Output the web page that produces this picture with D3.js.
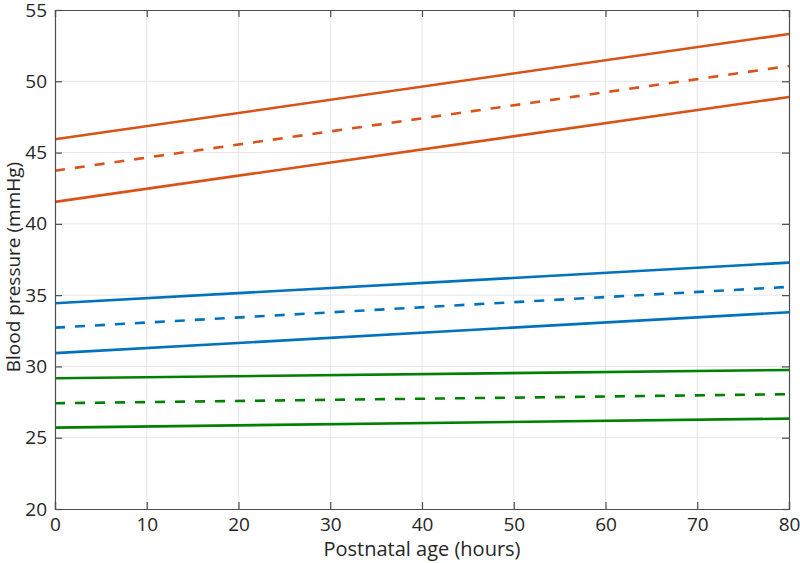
<!DOCTYPE html>
<html>
<head>
<meta charset="utf-8">
<script src="https://cdn.jsdelivr.net/npm/d3@7"></script>
<style>
  body { margin: 0; background: #fff; }
  text { font-family: "Open Sans", "Noto Sans", sans-serif; fill: #262626; }
</style>
</head>
<body>
<div id="chart"></div>
<script>
// data: straight lines from hour 0 to hour 80
const hours = [0, 80];
const xTicks = [0, 10, 20, 30, 40, 50, 60, 70, 80];
const yTicks = [20, 25, 30, 35, 40, 45, 50, 55];

const orangeUpper = [45.93, 53.32];
const orangeMid   = [43.73, 51.07];
const orangeLower = [41.54, 48.90];
const blueUpper   = [34.43, 37.28];
const blueMid     = [32.72, 35.58];
const blueLower   = [30.93, 33.80];
const greenUpper  = [29.17, 29.75];
const greenMid    = [27.42, 28.05];
const greenLower  = [25.71, 26.34];

const series = [
  { values: orangeUpper, color: "#D95319", dashed: false },
  { values: orangeMid,   color: "#D95319", dashed: true },
  { values: orangeLower, color: "#D95319", dashed: false },
  { values: blueUpper,   color: "#0072BD", dashed: false },
  { values: blueMid,     color: "#0072BD", dashed: true },
  { values: blueLower,   color: "#0072BD", dashed: false },
  { values: greenUpper,  color: "#008000", dashed: false },
  { values: greenMid,    color: "#008000", dashed: true },
  { values: greenLower,  color: "#008000", dashed: false }
];

const width = 800, height = 563;
const margin = { top: 10, right: 11, bottom: 54, left: 55 };
const w = width - margin.left - margin.right;
const h = height - margin.top - margin.bottom;

const svg = d3.select("#chart").append("svg")
    .attr("width", width)
    .attr("height", height);

const g = svg.append("g")
    .attr("transform", `translate(${margin.left},${margin.top})`);

const x = d3.scaleLinear().domain([0, 80]).range([0, w]);
const y = d3.scaleLinear().domain([20, 55]).range([h, 0]);

// grid
g.append("g").selectAll("line.vg")
    .data(xTicks.slice(1, -1))
    .enter().append("line")
    .attr("x1", d => x(d)).attr("x2", d => x(d))
    .attr("y1", 0).attr("y2", h)
    .attr("stroke", "#e6e6e6").attr("stroke-width", 1);

g.append("g").selectAll("line.hg")
    .data(yTicks.slice(1, -1))
    .enter().append("line")
    .attr("x1", 0).attr("x2", w)
    .attr("y1", d => y(d)).attr("y2", d => y(d))
    .attr("stroke", "#e6e6e6").attr("stroke-width", 1);

// lines
const line = d3.line()
    .x((d, i) => x(hours[i]))
    .y(d => y(d));

g.append("g").selectAll("path")
    .data(series)
    .enter().append("path")
    .attr("d", d => line(d.values))
    .attr("fill", "none")
    .attr("stroke", d => d.color)
    .attr("stroke-width", 2.6)
    .attr("stroke-dasharray", d => d.dashed ? "10,10" : null);

// axes, ticks pointing inward, MATLAB style box
const tickLen = 7;
const axisColor = "#4d4d4d";

const xAxis = g.append("g")
    .attr("transform", `translate(0,${h})`)
    .call(d3.axisBottom(x).tickValues(xTicks).tickSize(-tickLen).tickPadding(9));
const xTop = g.append("g")
    .call(d3.axisTop(x).tickValues(xTicks).tickSize(-tickLen).tickFormat(""));
const yAxis = g.append("g")
    .call(d3.axisLeft(y).tickValues(yTicks).tickSize(-tickLen).tickPadding(8));
const yRight = g.append("g")
    .attr("transform", `translate(${w},0)`)
    .call(d3.axisRight(y).tickValues(yTicks).tickSize(-tickLen).tickFormat(""));

[xAxis, xTop, yAxis, yRight].forEach(a => {
    a.select(".domain").attr("stroke", axisColor).attr("stroke-width", 1.2);
    a.selectAll(".tick line").attr("stroke", axisColor).attr("stroke-width", 1.2);
    a.selectAll(".tick text")
        .attr("font-family", null)
        .style("font-size", "19px")
        .attr("fill", "#262626");
});

// labels
svg.append("text")
    .attr("x", margin.left + w / 2)
    .attr("y", 556)
    .attr("text-anchor", "middle")
    .style("font-size", "20px")
    .text("Postnatal age (hours)");

svg.append("text")
    .attr("transform", `translate(20,267) rotate(-90)`)
    .attr("text-anchor", "middle")
    .style("font-size", "19px")
    .text("Blood pressure (mmHg)");
</script>
</body>
</html>
